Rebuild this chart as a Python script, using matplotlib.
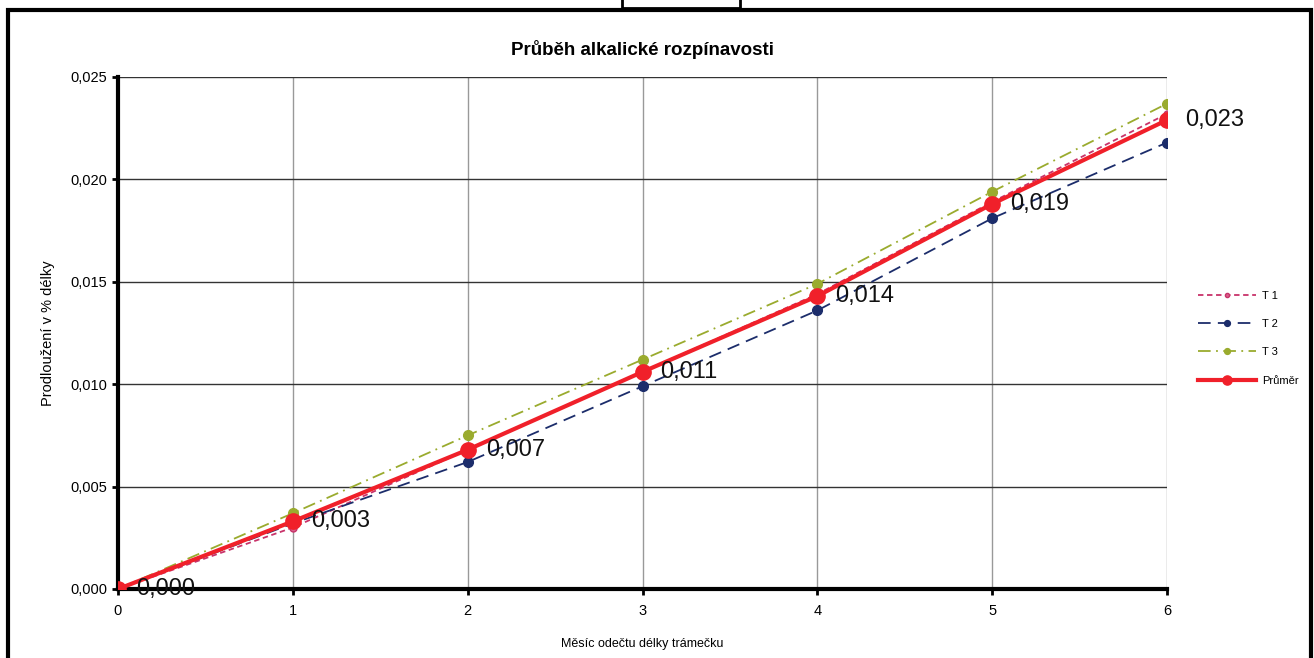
import matplotlib
matplotlib.use("Agg")
import matplotlib.pyplot as plt
from matplotlib.patches import Rectangle
from matplotlib.ticker import FuncFormatter

months = [0, 1, 2, 3, 4, 5, 6]
t1 = [0.0, 0.0030, 0.0068, 0.0106, 0.0144, 0.0189, 0.0232]
t2 = [0.0, 0.0032, 0.0062, 0.0099, 0.0136, 0.0181, 0.0218]
t3 = [0.0, 0.0037, 0.0075, 0.0112, 0.0149, 0.0194, 0.0237]
avg = [0.0, 0.0033, 0.0068, 0.0106, 0.0143, 0.0188, 0.0229]
avg_labels = ["0,000", "0,003", "0,007", "0,011", "0,014", "0,019", "0,023"]
yticks = [0.0, 0.005, 0.010, 0.015, 0.020, 0.025]

title = "Průběh alkalické rozpínavosti"
xlabel = "Měsíc odečtu délky trámečku"
ylabel = "Prodloužení v % délky"

plt.rcParams['font.family'] = ['Liberation Sans', 'DejaVu Sans']

fig = plt.figure(figsize=(13.14, 6.58), dpi=100)
ax = fig.add_axes([118/1314, 1-589/658, (1167-118)/1314, (589-77)/658])

ax.plot(months, t1, color='#c8336a', lw=1.3, ls=(0, (3, 2)), marker='o',
        ms=5, mfc='#d8608a', mec='#c8336a', label='T 1', zorder=3)
ax.plot(months, t2, color='#1c2d6b', lw=1.3, ls=(0, (7, 4)), marker='o',
        ms=7, mfc='#1c2d6b', mec='#1c2d6b', label='T 2', zorder=3)
ax.plot(months, t3, color='#9aab2e', lw=1.3, ls=(0, (7, 3, 1, 3)), marker='o',
        ms=7, mfc='#9aab2e', mec='#9aab2e', label='T 3', zorder=3)
ax.plot(months, avg, color='#f0202a', lw=3, marker='o', ms=11,
        mfc='#f0202a', mec='#f0202a', label='Průměr', zorder=4)

for x, y, s in zip(months, avg, avg_labels):
    ax.annotate(s, (x, y), xytext=(13, 0), textcoords='offset points',
                ha='left', va='center', fontsize=17, color='#111111', zorder=5)

ax.set_xlim(0, 6)
ax.set_ylim(0, 0.025)
ax.set_xticks(months)
ax.set_yticks(yticks)
ax.yaxis.set_major_formatter(FuncFormatter(lambda v, p: f"{v:.3f}".replace('.', ',')))
ax.tick_params(axis='both', labelsize=10.5, length=4, width=2, direction='out',
               colors='black')
ax.tick_params(axis='x', pad=7)
ax.tick_params(axis='y', pad=4)
ax.grid(True, axis='x', color='#999999', lw=1)
ax.grid(True, axis='y', color='#333333', lw=1)
ax.set_axisbelow(True)
for s in ['top', 'right']:
    ax.spines[s].set_visible(False)
for s in ['left', 'bottom']:
    ax.spines[s].set_linewidth(3)
    ax.spines[s].set_color('black')

ax.set_title(title, fontsize=13.5, fontweight='bold', pad=16)
ax.set_xlabel(xlabel, fontsize=9, labelpad=14)
ax.set_ylabel(ylabel, fontsize=10.5, labelpad=11)

leg = ax.legend(loc='center left', bbox_to_anchor=(1.02, 0.49), frameon=False,
                fontsize=8, handlelength=5.2, labelspacing=1.65, handletextpad=0.6,
                markerscale=0.6)

# outer frame and small top box (scan artifacts)
fig.patches.append(Rectangle((8/1314, -0.02), 1303/1314, 1.02 - 10/658,
                             transform=fig.transFigure, fill=False, lw=3,
                             edgecolor='black'))
fig.patches.append(Rectangle((622/1314, 1-8/658), 118/1314, 0.05,
                             transform=fig.transFigure, fill=False, lw=2,
                             edgecolor='black'))

fig.savefig('out.png', dpi=100)
